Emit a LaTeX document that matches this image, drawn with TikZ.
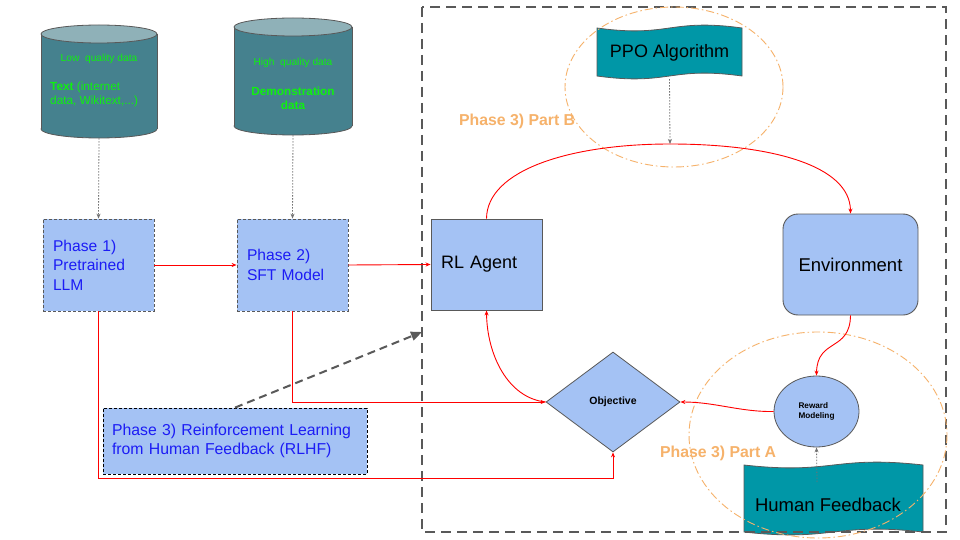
\documentclass[tikz,border=0pt]{standalone}
\usepackage{fontspec}
\setmainfont{Liberation Sans}
\usetikzlibrary{shapes.geometric,arrows.meta}
\definecolor{boxfill}{HTML}{A4C2F4}
\definecolor{tealw}{HTML}{0097A7}
\definecolor{cylbody}{HTML}{45818E}
\definecolor{cyltop}{HTML}{8FB1B8}
\definecolor{gtext}{HTML}{10F010}
\definecolor{btext}{HTML}{1C1CF5}
\definecolor{orng}{HTML}{F6B26B}
\definecolor{edgec}{HTML}{595959}
\definecolor{redl}{HTML}{FF0000}
\newcommand\fsz[2]{\fontsize{#1}{#2}\selectfont}
\newcommand\tapeshape[4]{%
  \filldraw[fill=tealw,draw=edgec,line width=0.8pt]
    (#1,#3) .. controls ({(#1+#2)/2},{#3+10}) and ({(#1+#2)/2},{#3-10}) .. (#2,#3)
    -- (#2,#4) .. controls ({(#1+#2)/2},{#4-10}) and ({(#1+#2)/2},{#4+10}) .. (#1,#4) -- cycle;}
\newcommand\cylshape[5]{% x0 x1 topcenter bottomcenter ry
  \filldraw[fill=cylbody,draw=edgec,line width=0.8pt] ({(#1+#2)/2},#4) ellipse [x radius={(#2-#1)/2}, y radius=#5];
  \fill[cylbody] (#1,#3) rectangle (#2,#4);
  \draw[edgec,line width=0.8pt] (#1,#3) -- (#1,#4) (#2,#3) -- (#2,#4);
  \filldraw[fill=cyltop,draw=edgec,line width=0.8pt] ({(#1+#2)/2},#3) ellipse [x radius={(#2-#1)/2}, y radius=#5];}
\tikzset{
  redarr/.style={draw=redl, line width=0.9pt, -{Stealth[length=5pt,width=4pt]}},
  redline/.style={draw=redl, line width=0.9pt},
  dotarr/.style={draw=edgec!85, line width=0.8pt, dash pattern=on 1.5pt off 1.5pt, -{Stealth[length=5pt,width=4pt]}},
  phasebox/.style={draw=edgec, fill=boxfill, dash pattern=on 3pt off 2pt, line width=0.8pt,
    minimum width=111pt, minimum height=92pt, inner sep=0pt, text width=91pt, align=left,
    text=btext, font=\fsz{15.6}{19.5}},
  solidbox/.style={draw=edgec, fill=boxfill, line width=0.9pt, inner sep=0pt},
  orangeell/.style={draw=orng, line width=0.9pt, dash pattern=on 8pt off 3pt on 1.5pt off 3pt},
  parttext/.style={text=orng, font=\fsz{15.8}{18}\bfseries, anchor=west, inner sep=0pt},
  greentext/.style={text=gtext, inner sep=0pt},
  frame/.style={draw=edgec, line width=2pt, dash pattern=on 10pt off 6pt}
}
\begin{document}
\begin{tikzpicture}[x=1pt,y=-1pt]
\useasboundingbox (0,0) rectangle (960,540);
\fill[white] (0,0) rectangle (960,540);

% cylinders
\cylshape{41}{157}{34}{129}{9}
\cylshape{234}{352}{27}{126}{9}
\node[inner sep=0pt, minimum width=116pt, minimum height=113pt] (cyl1) at (99,81.5) {};
\node[inner sep=0pt, minimum width=118pt, minimum height=117pt] (cyl2) at (293,76.5) {};
\node[greentext, font=\fsz{10.2}{12}] (lowq) at (99,59) {Low~ quality data};
\node[greentext, font=\fsz{11.8}{14}, anchor=west, align=left] (txt1) at (50,94) {\textbf{Text} (internet\\data, Wikitext,...)};
\node[greentext, font=\fsz{10.2}{12}] (highq) at (293,63) {High~ quality data};
\node[greentext, font=\fsz{11.8}{14}\bfseries, align=center] (demo) at (293,98) {Demonstration\\data};

% phase boxes
\node[phasebox] (p1) at (98.5,265) {Phase 1)\\Pretrained\\LLM};
\node[phasebox] (p2) at (292.5,265) {Phase 2)\\SFT Model};
\node[solidbox, minimum width=111pt, minimum height=91pt, text width=91pt, align=left, font=\fsz{18}{21}] (agent) at (486.5,264.5) {RL Agent};
\node[solidbox, rounded corners=15pt, minimum width=135pt, minimum height=101pt, font=\fsz{18.5}{21}] (env) at (850.5,264.5) {Environment};

% RLHF box
\node[draw=black, fill=boxfill, dash pattern=on 3pt off 2pt, line width=0.8pt, minimum width=264pt, minimum height=66pt,
  inner sep=0pt, text width=246pt, align=left, text=btext, font=\fsz{15.8}{19}] (rlhf) at (235,441) {Phase 3) Reinforcement Learning\\from Human Feedback (RLHF)};

% objective and reward
\node[diamond, draw=edgec, fill=boxfill, line width=0.8pt, aspect=1.34, minimum width=134pt, minimum height=100pt, inner sep=0pt,
  font=\fsz{10.5}{12}\bfseries] (obj) at (613,402) {Objective};
\node[ellipse, draw=edgec, fill=boxfill, line width=0.8pt, minimum width=85pt, minimum height=71pt, inner sep=0pt,
  font=\fsz{8.2}{10}\bfseries, align=left] (rm) at (816.5,411.5) {Reward\\Modeling};

% tapes
\tapeshape{597}{742}{28}{76}
\node[inner sep=0pt, minimum width=145pt, minimum height=52pt, font=\fsz{18}{21}] (ppo) at (669.5,53) {PPO Algorithm};
\tapeshape{744}{923}{465}{532}
\node[inner sep=0pt, font=\fsz{18.5}{21}] (hf) at (828,505) {Human Feedback};
\coordinate (hftop) at (817,482);

% frame
\draw[frame] (422,7) rectangle (946,532);

% orange ellipses and labels
\draw[orangeell] (674,87) ellipse [x radius=109, y radius=80];
\draw[orangeell] (818,435) ellipse [x radius=129, y radius=103];
\node[parttext] (partB) at (459,121) {Phase 3) Part B};
\node[parttext] (partA) at (660,453) {Phase 3) Part A};

% connectors
\draw[dotarr] (cyl1.south) -- (p1.north);
\draw[dotarr] (cyl2.south) -- (p2.north);
\draw[redarr] (p1.east) -- (p2.west);
\draw[redarr] (p2.east) -- (agent.west);
\coordinate (peak) at (670,144);
\draw[redline] (agent.north) .. controls (487,170) and (570,144) .. (peak);
\draw[redarr] (peak) .. controls (770,144) and (850,165) .. (env.north);
\draw[dotarr] (ppo.south) -- (peak);
\draw[redarr] (env.south) .. controls (850,352) and (817,338) .. (rm.north);
\draw[redarr] (rm.west) .. controls (740,412) and (715,402) .. (obj.east);
\draw[redarr] (obj.west) .. controls (508,398) and (487,355) .. (agent.south);
\draw[redarr] (p2.south) |- (obj.west);
\coordinate (bl) at (98.5,478);
\draw[redarr] (p1.south) -- (bl) -| (obj.south);
\draw[dotarr] (hftop) -- (rm.south);
\coordinate (rlhfend) at (422,332);
\draw[draw=edgec, line width=2pt, dash pattern=on 8pt off 5pt, -{Triangle[length=11pt,width=9pt]}] (rlhf.north) -- (rlhfend);
\end{tikzpicture}
\end{document}
